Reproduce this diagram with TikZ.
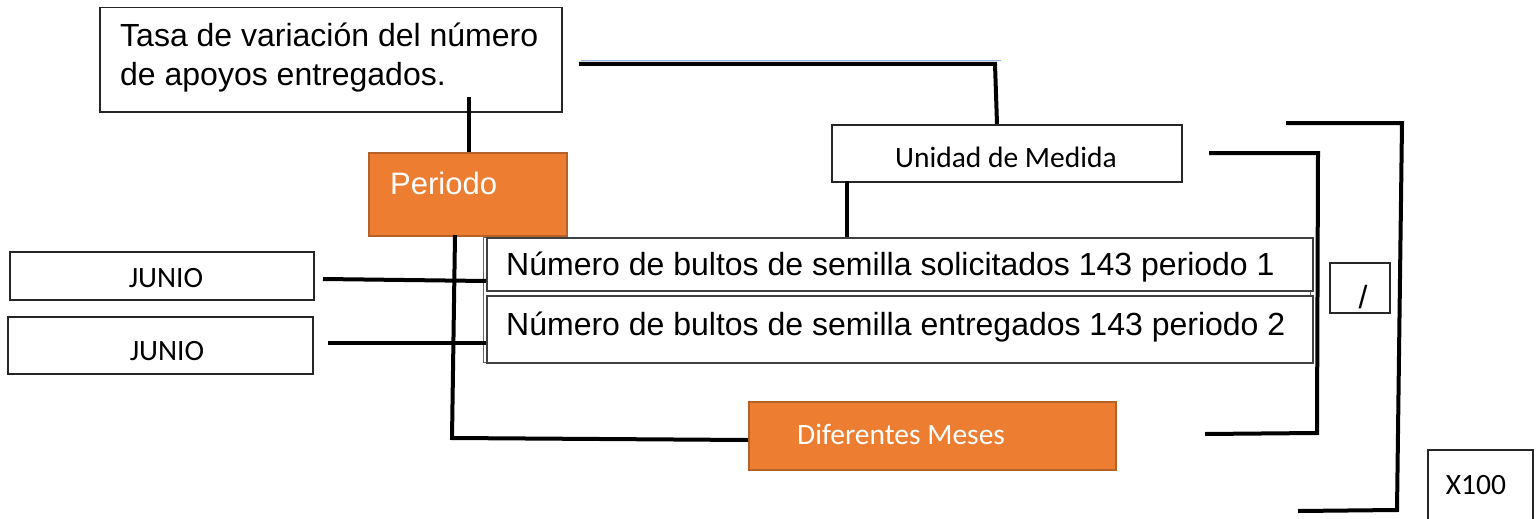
\documentclass[tikz,border=0pt]{standalone}
\usepackage{fontspec}
\setmainfont{Liberation Sans}
\newfontfamily\calibri{Carlito}
\definecolor{ofill}{HTML}{ED7D31}
\definecolor{oedge}{HTML}{B4612A}
\definecolor{bline}{HTML}{8DB3E2}
\begin{document}
\begin{tikzpicture}[x=1pt,y=-1pt,
  conn/.style={line width=4pt},
  wbox/.style={draw=black!85, line width=1.5pt, fill=white, inner sep=0pt, anchor=north west},
  obox/.style={draw=oedge, line width=2pt, fill=ofill, inner sep=0pt, anchor=north west},
  arial/.style={font=\fontsize{32}{38}\selectfont, inner sep=0pt},
  cal/.style={font=\calibri\fontsize{29.5}{35}\selectfont, inner sep=0pt}]
\useasboundingbox (0,0) rectangle (1537,519);
% boxes
\node[wbox, minimum width=462pt, minimum height=104pt] (title) at (99,7) {};
\node[obox, minimum width=198pt, minimum height=83pt] (periodo) at (368,152) {};
\node[wbox, line width=2.2pt, minimum width=350pt, minimum height=57pt] (unidad) at (831,124) {};
\node[wbox, minimum width=304pt, minimum height=48pt] (junio1) at (9,251) {};
\node[wbox, minimum width=305pt, minimum height=57pt] (junio2) at (7,316) {};
\node[wbox, draw=black!60, line width=1pt, minimum width=827pt, minimum height=125pt] (numgrp) at (483,237) {};
\node[wbox, draw=black!75, minimum width=826pt, minimum height=53pt] (num1) at (486,237) {};
\node[wbox, draw=black!75, minimum width=826pt, minimum height=67pt] (num2) at (486,295) {};
\node[obox, minimum width=367pt, minimum height=68pt] (dif) at (748,401) {};
\node[wbox, minimum width=60pt, minimum height=50pt] (div) at (1329,262) {};
\node[wbox, line width=2pt, minimum width=105pt, minimum height=90pt] (x100) at (1427,449) {};
% connectors
\coordinate (t1) at (469,97);
\draw[conn] (t1) -- (periodo.north -| t1);
\coordinate (u0) at (579,64);
\coordinate (u1) at (995,64);
\draw[bline, line width=1.5pt] (581,60.5) -- (1001,60.5);
\draw[conn] (u0) -- (u1) -- (unidad.north -| 997,0);
\coordinate (u2) at (847,181);
\draw[conn] (u2) -- (num1.north -| u2);
\coordinate (p0) at (455,235);
\coordinate (p1) at (452,438);
\draw[conn] (p0) -- (p1) -- (dif.west |- 0,440);
\coordinate (j1) at (323,279);
\draw[conn] (j1) -- (num1.west |- 0,281);
\coordinate (j2) at (328,343);
\draw[conn] (j2) -- (num2.west |- 0,343);
\coordinate (b1) at (1209,153);
\coordinate (b2) at (1318,153);
\coordinate (b3) at (1317,433);
\coordinate (b4) at (1205,434);
\draw[conn] (b1) -- (b2) -- (b3) -- (b4);
\coordinate (c1) at (1286,123);
\coordinate (c2) at (1402,123);
\coordinate (c3) at (1397,510);
\coordinate (c4) at (1298,511);
\draw[conn] (c1) -- (c2) -- (c3) -- (c4);
% texts
\node[arial, anchor=base west] (title1) at (120,47) {Tasa de variación del número};
\node[arial, anchor=base west] (title2) at (120,85) {de apoyos entregados.};
\node[arial, font=\fontsize{31}{38}\selectfont, anchor=base west, text=white] (periodot) at (390,194) {Periodo};
\node[cal, anchor=base] (unidadt) at (1006,167) {Unidad de Medida};
\node[cal, anchor=base] (junio1t) at (166,287) {JUNIO};
\node[cal, anchor=base] (junio2t) at (167,360) {JUNIO};
\node[arial, anchor=base west] (num1t) at (506,275) {Número de bultos de semilla solicitados 143 periodo 1};
\node[arial, anchor=base west] (num2t) at (506,335) {Número de bultos de semilla entregados 143 periodo 2};
\node[cal, anchor=base west, text=white] (dift) at (797,444) {Diferentes Meses};
\node[arial, anchor=base] (divt) at (1363,308) {/};
\node[cal, anchor=base] (x100t) at (1476,494) {X100};
\end{tikzpicture}
\end{document}
